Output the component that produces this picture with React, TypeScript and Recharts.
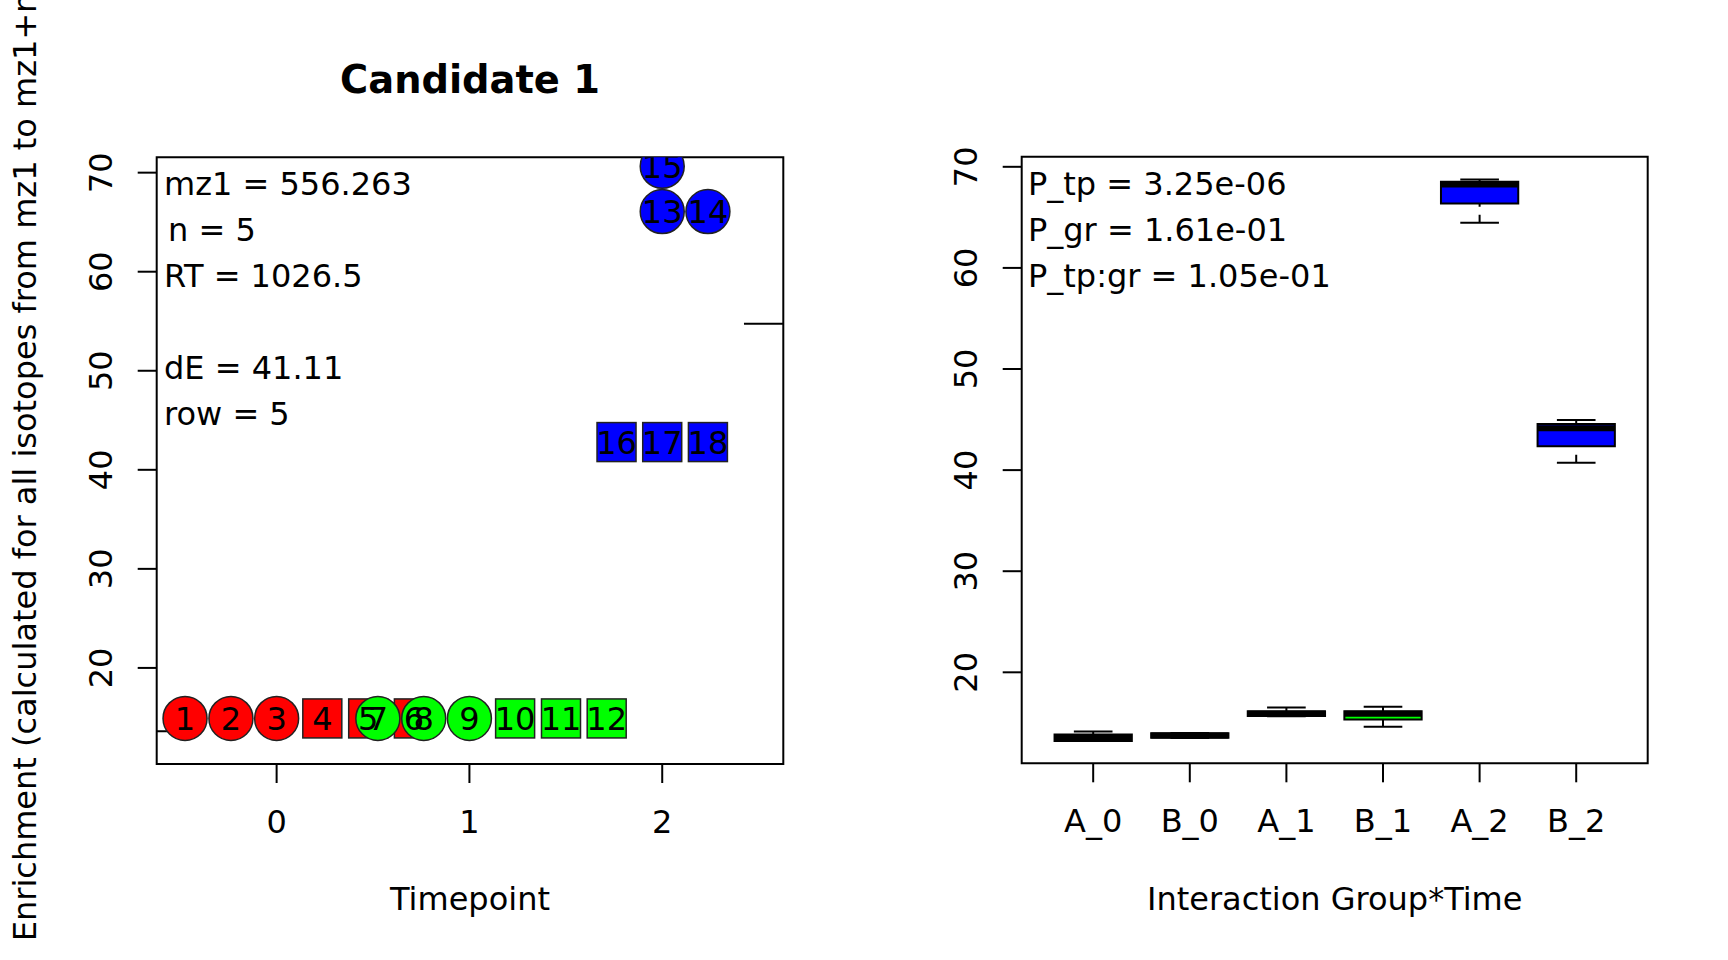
import React from 'react';
import {
  ScatterChart,
  ComposedChart,
  Scatter,
  XAxis,
  YAxis,
  ReferenceArea,
  ReferenceLine
} from 'recharts';

const FONT = '"DejaVu Sans", sans-serif';
const FS = 32;

// ---- left panel: single samples by timepoint ----
const sampleIds = ['1', '2', '3', '4', '5', '6', '7', '8', '9', '10', '11', '12', '13', '14', '15', '16', '17', '18'];
const sampleX = [-0.475, -0.237, 0, 0.237, 0.475, 0.712, 0.525, 0.763, 1.0, 1.237, 1.475, 1.712, 2.0, 2.237, 2.0, 1.763, 2.0, 2.237];
const sampleY = [14.9, 14.9, 14.9, 14.9, 14.9, 14.9, 14.9, 14.9, 14.9, 14.9, 14.9, 14.9, 66.07, 66.07, 70.64, 42.8, 42.8, 42.8];
const sampleShape = ['circle', 'circle', 'circle', 'square', 'square', 'square', 'circle', 'circle', 'circle', 'square', 'square', 'square', 'circle', 'circle', 'circle', 'square', 'square', 'square'];
const sampleColor = ['#ff0000', '#ff0000', '#ff0000', '#ff0000', '#ff0000', '#ff0000', '#00ff00', '#00ff00', '#00ff00', '#00ff00', '#00ff00', '#00ff00', '#0000ff', '#0000ff', '#0000ff', '#0000ff', '#0000ff', '#0000ff'];
const timeTicks = [0, 1, 2];
const enrichTicks = [20, 30, 40, 50, 60, 70];
const leftXDomain = [-0.622, 2.628];
const leftYDomain = [10.3, 71.55];
// short horizontal marks at the panel edges
const edgeMarks = [
  { y: 13.6, from: -0.622, to: -0.419 },
  { y: 54.75, from: 2.424, to: 2.628 }
];
const leftInfo = ['mz1 = 556.263', 'n = 5', 'RT = 1026.5', '', 'dE = 41.11', 'row = 5'];

// ---- right panel: boxplots by group*time ----
const groupLabels = ['A_0', 'B_0', 'A_1', 'B_1', 'A_2', 'B_2'];
const groupPos = [1, 2, 3, 4, 5, 6];
const boxMin = [13.2, 13.5, 15.65, 14.61, 64.46, 40.72];
const boxQ1 = [13.2, 13.52, 15.67, 15.32, 66.38, 42.37];
const boxMedian = [13.5, 13.74, 15.91, 15.91, 68.24, 44.15];
const boxQ3 = [13.85, 13.96, 16.16, 16.16, 68.52, 44.55];
const boxMax = [14.15, 14.0, 16.53, 16.59, 68.75, 44.95];
const boxColor = ['#ff0000', '#ff0000', '#00ff00', '#00ff00', '#0000ff', '#0000ff'];
const rightXDomain = [0.26, 6.74];
const rightYDomain = [11, 71];
const rightInfo = ['P_tp = 3.25e-06', 'P_gr = 1.61e-01', 'P_tp:gr = 1.05e-01'];

const samples = sampleIds.map((id, i) => ({
  id,
  x: sampleX[i],
  y: sampleY[i],
  shape: sampleShape[i],
  color: sampleColor[i]
}));

const boxes = groupLabels.map((g, i) => ({
  group: g,
  pos: groupPos[i],
  min: boxMin[i],
  q1: boxQ1[i],
  median: boxMedian[i],
  q3: boxQ3[i],
  max: boxMax[i],
  color: boxColor[i]
}));

const tickLine = { stroke: '#000', strokeWidth: 2 };

const XTick = (props: any) => {
  const { x, y, payload, labels } = props;
  const text = labels ? labels[payload.value - 1] : payload.value;
  return (
    <text x={x} y={y + 48} textAnchor="middle" fontFamily={FONT} fontSize={FS} fill="#000">
      {text}
    </text>
  );
};

const YTick = (props: any) => {
  const { x, y, payload } = props;
  return (
    <text
      transform={`translate(${x - 35},${y}) rotate(-90)`}
      textAnchor="middle"
      dy="0.36em"
      fontFamily={FONT}
      fontSize={FS}
      fill="#000"
    >
      {payload.value}
    </text>
  );
};

const renderSample = (props: any) => {
  const { cx, cy, payload } = props;
  if (payload.shape === 'circle') {
    return <circle cx={cx} cy={cy} r={22} fill={payload.color} stroke="#222" strokeWidth={1.5} />;
  }
  return <rect x={cx - 19.5} y={cy - 19.5} width={39} height={39} fill={payload.color} stroke="#222" strokeWidth={1.5} />;
};

const renderSampleLabel = (props: any) => {
  const { cx, cy, payload } = props;
  return (
    <text x={cx} y={cy} dy="0.36em" textAnchor="middle" fontFamily={FONT} fontSize={FS} fill="#000">
      {payload.id}
    </text>
  );
};

const LeftPanel = () => (
  <div style={{ position: 'absolute', left: 0, top: 0 }}>
    <ScatterChart width={880} height={960} margin={{ top: 157.3, right: 96.7, bottom: 166, left: 0 }}>
      <XAxis
        type="number"
        dataKey="x"
        domain={leftXDomain}
        ticks={timeTicks}
        interval={0}
        allowDataOverflow
        axisLine={false}
        tickLine={tickLine}
        tickSize={19}
        height={30}
        tick={(p: any) => <XTick {...p} />}
      />
      <YAxis
        type="number"
        dataKey="y"
        domain={leftYDomain}
        ticks={enrichTicks}
        interval={0}
        allowDataOverflow
        axisLine={false}
        tickLine={tickLine}
        tickSize={19}
        width={156.7}
        tick={(p: any) => <YTick {...p} />}
      />
      <Scatter data={samples} shape={renderSample} isAnimationActive={false} />
      <Scatter data={samples} shape={renderSampleLabel} isAnimationActive={false} />
      {edgeMarks.map((m, i) => (
        <ReferenceLine
          key={`mark-${i}`}
          segment={[{ x: m.from, y: m.y }, { x: m.to, y: m.y }]}
          stroke="#000"
          strokeWidth={2}
          ifOverflow="visible"
        />
      ))}
      <ReferenceArea
        x1={leftXDomain[0]}
        x2={leftXDomain[1]}
        y1={leftYDomain[0]}
        y2={leftYDomain[1]}
        fill="none"
        stroke="#000"
        strokeWidth={2}
        ifOverflow="visible"
      />
    </ScatterChart>
  </div>
);

const RightPanel = () => (
  <div style={{ position: 'absolute', left: 864, top: 0 }}>
    <ComposedChart width={864} height={960} data={boxes} margin={{ top: 156.7, right: 80.3, bottom: 166.7, left: 0 }}>
      <XAxis
        type="number"
        dataKey="pos"
        domain={rightXDomain}
        ticks={groupPos}
        interval={0}
        allowDataOverflow
        axisLine={false}
        tickLine={tickLine}
        tickSize={19}
        height={30}
        tick={(p: any) => <XTick {...p} labels={groupLabels} />}
      />
      <YAxis
        type="number"
        domain={rightYDomain}
        ticks={enrichTicks}
        interval={0}
        allowDataOverflow
        axisLine={false}
        tickLine={tickLine}
        tickSize={19}
        width={157.7}
        tick={(p: any) => <YTick {...p} />}
      />
      {/* whiskers, dashed */}
      {boxes.map((b) => (
        <ReferenceLine key={`wl-${b.group}`} segment={[{ x: b.pos, y: b.min }, { x: b.pos, y: b.q1 }]} stroke="#000" strokeWidth={2} strokeDasharray="8 8" ifOverflow="visible" />
      ))}
      {boxes.map((b) => (
        <ReferenceLine key={`wu-${b.group}`} segment={[{ x: b.pos, y: b.max }, { x: b.pos, y: b.q3 }]} stroke="#000" strokeWidth={2} strokeDasharray="8 8" ifOverflow="visible" />
      ))}
      {/* staples */}
      {boxes.map((b) => (
        <ReferenceLine key={`sl-${b.group}`} segment={[{ x: b.pos - 0.2, y: b.min }, { x: b.pos + 0.2, y: b.min }]} stroke="#000" strokeWidth={2} ifOverflow="visible" />
      ))}
      {boxes.map((b) => (
        <ReferenceLine key={`su-${b.group}`} segment={[{ x: b.pos - 0.2, y: b.max }, { x: b.pos + 0.2, y: b.max }]} stroke="#000" strokeWidth={2} ifOverflow="visible" />
      ))}
      {/* boxes */}
      {boxes.map((b) => (
        <ReferenceArea key={`box-${b.group}`} x1={b.pos - 0.4} x2={b.pos + 0.4} y1={b.q1} y2={b.q3} fill={b.color} fillOpacity={1} stroke="#000" strokeWidth={2} ifOverflow="visible" />
      ))}
      {/* medians */}
      {boxes.map((b) => (
        <ReferenceLine key={`med-${b.group}`} segment={[{ x: b.pos - 0.4, y: b.median }, { x: b.pos + 0.4, y: b.median }]} stroke="#000" strokeWidth={6} strokeLinecap="butt" ifOverflow="visible" />
      ))}
      <Scatter dataKey="median" shape={() => <g />} isAnimationActive={false} />
      <ReferenceArea
        x1={rightXDomain[0]}
        x2={rightXDomain[1]}
        y1={rightYDomain[0]}
        y2={rightYDomain[1]}
        fill="none"
        stroke="#000"
        strokeWidth={2}
        ifOverflow="visible"
      />
    </ComposedChart>
  </div>
);

// titles and in-plot text
const Overlay = () => (
  <svg
    width={1728}
    height={960}
    style={{ position: 'absolute', left: 0, top: 0, pointerEvents: 'none' }}
    fontFamily={FONT}
    fontSize={FS}
    fill="#000"
  >
    <text x={470} y={93} textAnchor="middle" fontWeight="bold" fontSize={38.4}>
      Candidate 1
    </text>
    <text transform="translate(24,460.7) rotate(-90)" textAnchor="middle" dy="0.36em">
      Enrichment (calculated for all isotopes from mz1 to mz1+n)
    </text>
    <text x={470} y={910} textAnchor="middle">Timepoint</text>
    <text x={1334.7} y={910} textAnchor="middle">Interaction Group*Time</text>
    {leftInfo.map((t, i) => (
      <text key={`li-${i}`} x={t.startsWith('n') ? 168 : 164} y={195 + i * 46}>
        {t}
      </text>
    ))}
    {rightInfo.map((t, i) => (
      <text key={`ri-${i}`} x={1028} y={195 + i * 46}>
        {t}
      </text>
    ))}
  </svg>
);

export default function App() {
  return (
    <div style={{ position: 'absolute', left: 0, top: 0, width: 1728, height: 960, background: '#fff' }}>
      <LeftPanel />
      <RightPanel />
      <Overlay />
    </div>
  );
}
